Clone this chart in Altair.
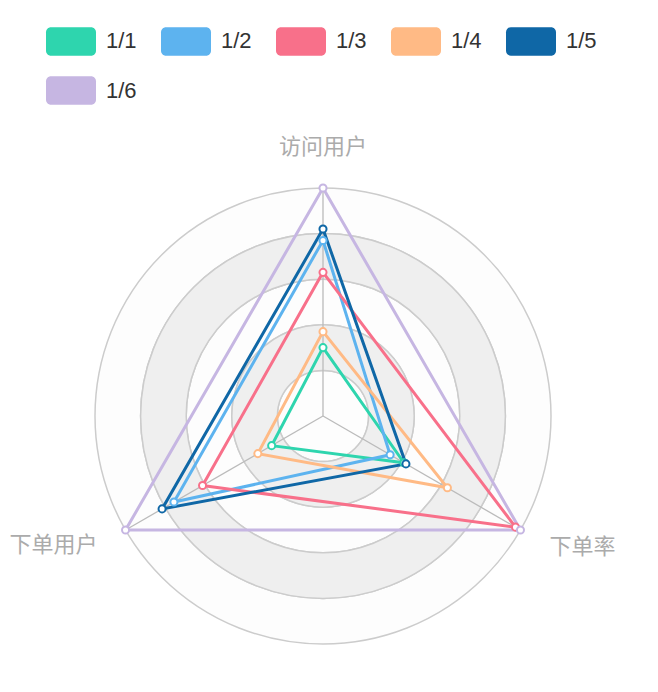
import altair as alt
import pandas as pd

# ---------------- data ----------------
indicators = ["访问用户", "下单率", "下单用户"]
indicator_angles = [0, 120, 240]          # degrees, clockwise from top
indicator_max = [1.0, 1.0, 1.0]

series_names = ["1/1", "1/2", "1/3", "1/4", "1/5", "1/6"]
series_colors = ["#2ED5AE", "#5DB3EF", "#F8708A", "#FFBA85", "#0F67A6", "#C6B6E2"]

values_1_1 = [0.30, 0.41, 0.26]
values_1_2 = [0.77, 0.34, 0.755]
values_1_3 = [0.63, 0.975, 0.61]
values_1_4 = [0.37, 0.63, 0.33]
values_1_5 = [0.82, 0.42, 0.815]
values_1_6 = [1.00, 1.00, 1.00]
series_values = [values_1_1, values_1_2, values_1_3, values_1_4, values_1_5, values_1_6]

split_levels = [0.0, 0.2, 0.4, 0.6, 0.8, 1.0]
split_shades = ["light", "gray", "light", "gray", "light"]

# ---------------- tables ----------------
rows = []
for name, vals in zip(series_names, series_values):
    n = len(indicators)
    for k in range(n + 1):           # close the polygon
        i = k % n
        rows.append({"series": name, "indicator": indicators[i],
                     "value": vals[i] / indicator_max[i],
                     "angle": indicator_angles[i], "order": k, "closing": k == n})
series_df = pd.DataFrame(rows)

rings_df = pd.DataFrame({"r0": split_levels[:-1], "r1": split_levels[1:], "shade": split_shades})
axes_df = pd.DataFrame({"indicator": indicators, "angle": indicator_angles})

R = 228
SIZE = 2 * R
xs = alt.Scale(domain=[-1, 1], range=[0, SIZE], nice=False, zero=False)
ys = alt.Scale(domain=[-1, 1], range=[SIZE, 0], nice=False, zero=False)
stroke_scale = alt.Scale(range=series_colors)                        # domain from data
legend_scale = alt.Scale(domain=series_names, range=series_colors)   # explicit domain
radius_scale = alt.Scale(type="linear", domain=[0, 1], range=[0, R], zero=True, nice=False)


def ring_layer(shade, fill):
    return alt.Chart(rings_df).transform_filter(alt.datum.shade == shade).mark_arc(
        stroke="#CCCCCC", strokeWidth=1.5, fill=fill
    ).encode(
        theta=alt.value(0),
        theta2=alt.value(6.2832),
        radius=alt.Radius("r1:Q", scale=radius_scale),
        radius2="r0:Q",
    )


rings_light = ring_layer("light", "#FDFDFD")
rings_gray = ring_layer("gray", "#EFEFEF")

axis_lines = alt.Chart(axes_df).transform_calculate(
    x0="0", y0="0",
    x1="sin(datum.angle * PI / 180)",
    y1="cos(datum.angle * PI / 180)",
).mark_rule(color="#BBBBBB", strokeWidth=1.3).encode(
    x=alt.X("x0:Q", scale=xs, axis=None),
    y=alt.Y("y0:Q", scale=ys, axis=None),
    x2="x1:Q",
    y2="y1:Q",
)

base = alt.Chart(series_df).transform_calculate(
    px="datum.value * sin(datum.angle * PI / 180)",
    py="datum.value * cos(datum.angle * PI / 180)",
)

lines = base.mark_line(strokeWidth=3).encode(
    x=alt.X("px:Q", scale=xs, axis=None),
    y=alt.Y("py:Q", scale=ys, axis=None),
    stroke=alt.Stroke("series:N", scale=stroke_scale, legend=None),
    order=alt.Order("order:Q"),
)

points = base.transform_filter("!datum.closing").mark_point(
    filled=True, fill="white", size=50, strokeWidth=2, opacity=1
).encode(
    x=alt.X("px:Q", scale=xs, axis=None),
    y=alt.Y("py:Q", scale=ys, axis=None),
    stroke=alt.Stroke("series:N", scale=stroke_scale, legend=None),
)

rounded_rect = ("M-0.8,-0.57H0.8A0.2,0.2,0,0,1,1,-0.37V0.37A0.2,0.2,0,0,1,0.8,0.57"
                "H-0.8A0.2,0.2,0,0,1,-1,0.37V-0.37A0.2,0.2,0,0,1,-0.8,-0.57Z")

legend_layer = alt.Chart(series_df).transform_filter("false").mark_point(
    filled=True, opacity=1
).encode(
    fill=alt.Fill("series:N", scale=legend_scale, legend=alt.Legend(
        title=None, orient="none", legendX=-49, legendY=-172,
        direction="horizontal", columns=5,
        symbolType=rounded_rect, symbolSize=2500, symbolStrokeWidth=0, symbolOpacity=1,
        labelFontSize=22, labelColor="#333333", labelFont="Liberation Sans",
        labelOffset=10, columnPadding=24, rowPadding=9.5, padding=0,
    )),
)

label_font = "Noto Sans CJK SC"
label_color = "#ABABAB"
labels_base = alt.Chart(axes_df).transform_calculate(
    lx="sin(datum.angle * PI / 180)",
    ly="cos(datum.angle * PI / 180)",
)


def axis_label(name, align, dx, dy):
    return labels_base.transform_filter(alt.datum.indicator == name).mark_text(
        align=align, baseline="middle", dx=dx, dy=dy,
        font=label_font, fontSize=22, color=label_color,
    ).encode(
        x=alt.X("lx:Q", scale=xs, axis=None),
        y=alt.Y("ly:Q", scale=ys, axis=None),
        text="indicator:N",
    )


lab_top = axis_label("访问用户", "center", 0, -41)
lab_right = axis_label("下单率", "left", 29, 17)
lab_left = axis_label("下单用户", "right", -28, 15)

chart = alt.layer(
    rings_light, rings_gray, axis_lines, lines, points, legend_layer,
    lab_top, lab_right, lab_left
).properties(
    width=SIZE, height=SIZE,
    autosize=alt.AutoSizeParams(type="none"),
    padding={"left": 95, "top": 188, "right": 107, "bottom": 48},
    background="white",
).configure_view(stroke=None)

chart.save("out.html", embed_options={"renderer": "svg", "actions": False})
